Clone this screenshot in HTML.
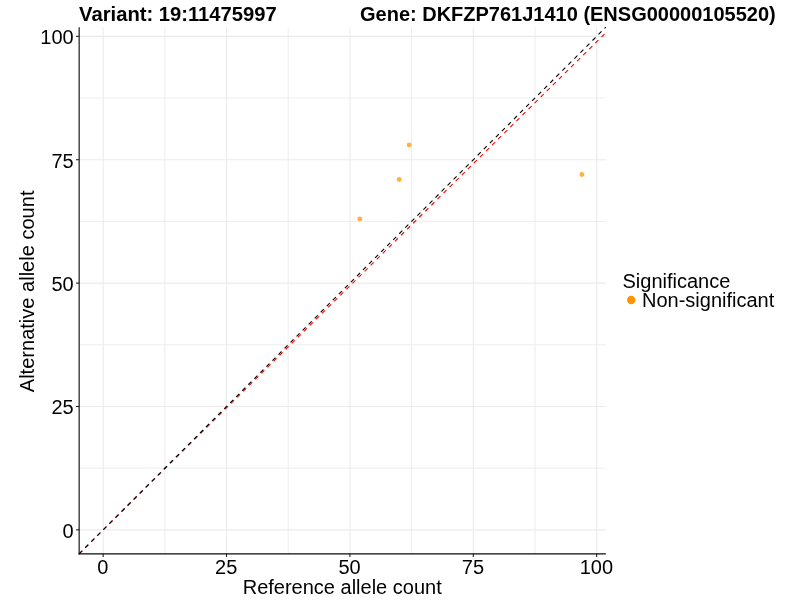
<!DOCTYPE html>
<html><head><meta charset="utf-8"><title>plot</title>
<style>
html,body{margin:0;padding:0;background:#fff;width:800px;height:600px;overflow:hidden}
svg{display:block}
text{font-family:"Liberation Sans",Arial,sans-serif;font-size:20px;fill:#000}
.b{font-weight:bold}
.gmin{stroke:#ebebeb;stroke-width:0.9}
.gmaj{stroke:#ebebeb;stroke-width:1.1}
.ax{stroke:#0a0a0a;stroke-width:1.12}
.tk{stroke:#1a1a1a;stroke-width:1.07}
.pt{fill:#ff9300;fill-opacity:0.72}
.red{stroke:#ff0000;stroke-width:1.1;stroke-dasharray:4.27 4.27}
.blk{stroke:#000;stroke-width:1.1;stroke-dasharray:4.27 4.27}
</style></head><body>
<svg width="800" height="600" viewBox="0 0 800 600">
<rect width="800" height="600" fill="#fff"/>
<line x1="164.83" y1="27.2" x2="164.83" y2="553.80" class="gmin"/>
<line x1="79.2" y1="468.17" x2="605.80" y2="468.17" class="gmin"/>
<line x1="288.21" y1="27.2" x2="288.21" y2="553.80" class="gmin"/>
<line x1="79.2" y1="344.79" x2="605.80" y2="344.79" class="gmin"/>
<line x1="411.59" y1="27.2" x2="411.59" y2="553.80" class="gmin"/>
<line x1="79.2" y1="221.41" x2="605.80" y2="221.41" class="gmin"/>
<line x1="534.98" y1="27.2" x2="534.98" y2="553.80" class="gmin"/>
<line x1="79.2" y1="98.02" x2="605.80" y2="98.02" class="gmin"/>
<line x1="103.14" y1="27.2" x2="103.14" y2="553.80" class="gmaj"/>
<line x1="79.2" y1="529.86" x2="605.80" y2="529.86" class="gmaj"/>
<line x1="226.52" y1="27.2" x2="226.52" y2="553.80" class="gmaj"/>
<line x1="79.2" y1="406.48" x2="605.80" y2="406.48" class="gmaj"/>
<line x1="349.90" y1="27.2" x2="349.90" y2="553.80" class="gmaj"/>
<line x1="79.2" y1="283.10" x2="605.80" y2="283.10" class="gmaj"/>
<line x1="473.29" y1="27.2" x2="473.29" y2="553.80" class="gmaj"/>
<line x1="79.2" y1="159.71" x2="605.80" y2="159.71" class="gmaj"/>
<line x1="596.67" y1="27.2" x2="596.67" y2="553.80" class="gmaj"/>
<line x1="79.2" y1="36.33" x2="605.80" y2="36.33" class="gmaj"/>
<circle cx="359.77" cy="218.94" r="2.45" class="pt"/>
<circle cx="399.26" cy="179.46" r="2.45" class="pt"/>
<circle cx="409.13" cy="144.91" r="2.45" class="pt"/>
<circle cx="581.86" cy="174.52" r="2.45" class="pt"/>
<line x1="79.20" y1="553.54" x2="605.80" y2="32.73" class="red"/>
<line x1="79.20" y1="553.80" x2="605.80" y2="27.20" class="blk"/>
<line x1="79.15" y1="27.2" x2="79.15" y2="554.45" class="ax"/>
<line x1="78.57" y1="553.87" x2="605.80" y2="553.87" class="ax"/>
<line x1="76.05" y1="529.86" x2="79.15" y2="529.86" class="tk"/>
<line x1="103.14" y1="553.87" x2="103.14" y2="556.97" class="tk"/>
<text transform="translate(73.7 537.76) scale(1 1.035)" text-anchor="end">0</text>
<text transform="translate(102.79 574.1) scale(1 1.035)" text-anchor="middle">0</text>
<line x1="76.05" y1="406.48" x2="79.15" y2="406.48" class="tk"/>
<line x1="226.52" y1="553.87" x2="226.52" y2="556.97" class="tk"/>
<text transform="translate(73.7 414.38) scale(1 1.035)" text-anchor="end">25</text>
<text transform="translate(226.17 574.1) scale(1 1.035)" text-anchor="middle">25</text>
<line x1="76.05" y1="283.10" x2="79.15" y2="283.10" class="tk"/>
<line x1="349.90" y1="553.87" x2="349.90" y2="556.97" class="tk"/>
<text transform="translate(73.7 291.00) scale(1 1.035)" text-anchor="end">50</text>
<text transform="translate(349.55 574.1) scale(1 1.035)" text-anchor="middle">50</text>
<line x1="76.05" y1="159.71" x2="79.15" y2="159.71" class="tk"/>
<line x1="473.29" y1="553.87" x2="473.29" y2="556.97" class="tk"/>
<text transform="translate(73.7 167.61) scale(1 1.035)" text-anchor="end">75</text>
<text transform="translate(472.94 574.1) scale(1 1.035)" text-anchor="middle">75</text>
<line x1="76.05" y1="36.33" x2="79.15" y2="36.33" class="tk"/>
<line x1="596.67" y1="553.87" x2="596.67" y2="556.97" class="tk"/>
<text transform="translate(73.7 44.23) scale(1 1.035)" text-anchor="end">100</text>
<text transform="translate(596.32 574.1) scale(1 1.035)" text-anchor="middle">100</text>
<text class="b" transform="translate(79.1 21) scale(1.0105 1.035)">Variant: 19:11475997</text>
<text class="b" transform="translate(360 21) scale(1 1.03)">Gene: DKFZP761J1410 (ENSG00000105520)</text>
<text x="342.2" y="594" text-anchor="middle">Reference allele count</text>
<text transform="translate(34 291.4) rotate(-90) scale(1.003 1)" text-anchor="middle">Alternative allele count</text>
<text x="622.5" y="287.5">Significance</text>
<circle cx="631.2" cy="300" r="4.15" fill="#ff9300"/>
<text x="642" y="307.4">Non-significant</text>
</svg>
</body></html>
